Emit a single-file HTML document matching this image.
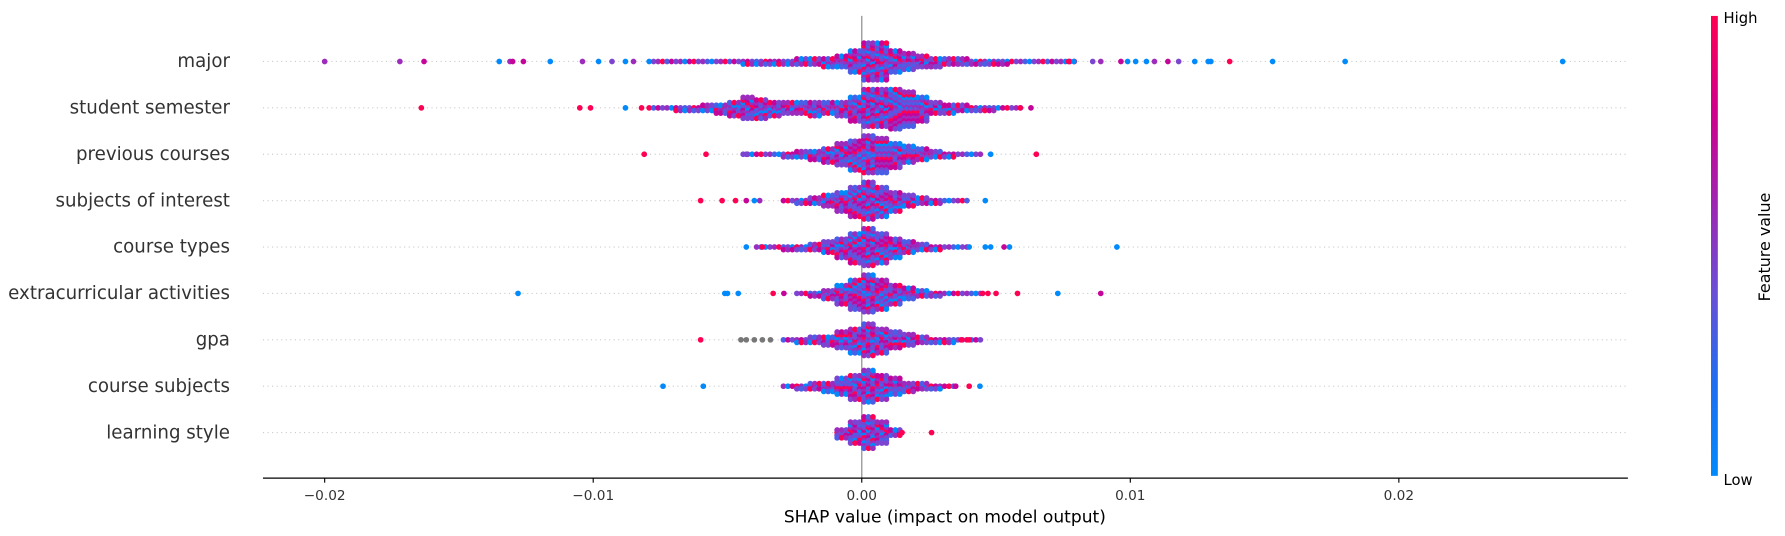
<!DOCTYPE html>
<html><head><meta charset="utf-8"><style>
html,body{margin:0;padding:0;background:#fff;}
svg{display:block;font-family:"DejaVu Sans","Liberation Sans",sans-serif;}
</style></head><body>
<svg id="chart" width="1785" height="536" viewBox="0 0 1785 536" xmlns="http://www.w3.org/2000/svg">
<defs><linearGradient id="cb" x1="0" y1="1" x2="0" y2="0">
<stop offset="0" stop-color="#008afb"/><stop offset="0.2" stop-color="#1e6ef0"/><stop offset="0.4" stop-color="#6a4fd6"/><stop offset="0.6" stop-color="#a024b0"/><stop offset="0.8" stop-color="#d1008a"/><stop offset="1" stop-color="#ff0052"/></linearGradient></defs>
<g id="root" transform="scale(1.13839)"></g>
</svg>
<script>
const features = ["major","student semester","previous courses","subjects of interest","course types","extracurricular activities","gpa","course subjects","learning style"];
const binStart = -0.008;
const binWidth = 0.0005;
const coreMajor = [1,1,1,1,1,1,1,2,2,2,2,3,3,4,5,9,15,15,9,7,5,4,3,3,2,2,2,1,1,1,1,1];
const coreSemester = [1,1,2,2,3,4,6,9,8,6,5,5,6,5,6,10,15,15,16,14,10,5,4,3,2,2,1,1,0,0,0,0];
const corePrevious = [0,0,0,0,0,0,0,1,1,1,2,3,4,6,9,12,15,14,10,7,5,3,2,1,1,0,0,0,0,0,0,0];
const coreSubjects = [0,0,0,0,0,0,0,0,0,0,1,2,3,5,8,12,15,12,8,5,3,2,1,1,0,0,0,0,0,0,0,0];
const coreTypes = [0,0,0,0,0,0,0,0,1,1,2,2,3,5,8,12,15,12,8,5,3,2,1,1,0,0,0,0,0,0,0,0];
const coreExtra = [0,0,0,0,0,0,0,0,0,0,0,1,2,4,8,12,15,12,8,5,3,2,1,1,1,0,0,0,0,0,0,0];
const coreGpa = [0,0,0,0,0,0,0,0,0,0,1,2,3,4,7,10,13,10,7,5,3,2,2,1,1,0,0,0,0,0,0,0];
const coreCourseSubj = [0,0,0,0,0,0,0,0,0,0,1,2,3,4,7,10,13,10,7,4,3,2,1,0,0,0,0,0,0,0,0,0];
const coreLearning = [0,0,0,0,0,0,0,0,0,0,0,0,0,0,4,9,13,9,3,0,0,0,0,0,0,0,0,0,0,0,0,0];
const cores = [coreMajor,coreSemester,corePrevious,coreSubjects,coreTypes,coreExtra,coreGpa,coreCourseSubj,coreLearning];
// outliers: [shap value, color index 0=blue..5=red, 6=gray]
const outMajor = [[-0.0200,3],[-0.0172,3],[-0.0163,4],[-0.0135,0],[-0.0131,3],[-0.0130,4],[-0.0126,4],[-0.0116,0],[-0.0104,3],[-0.0098,0],[-0.0093,2],[-0.0088,0],[-0.0085,3],[0.0077,5],[0.0079,0],[0.0086,2],[0.0089,3],[0.00965,4],[0.0099,0],[0.0102,0],[0.0106,0],[0.0109,3],[0.0114,4],[0.0118,2],[0.0124,0],[0.0129,0],[0.0130,0],[0.0137,5],[0.0153,0],[0.0180,0],[0.0261,0]];
const outSemester = [[-0.0164,5],[-0.0105,5],[-0.0101,5],[-0.0088,0],[-0.0082,5],[0.0059,5],[0.0063,4]];
const outPrevious = [[-0.0081,5],[-0.0058,5],[-0.0043,2],[0.0048,0],[0.0065,5]];
const outSubjects = [[-0.0060,5],[-0.0052,5],[-0.0047,5],[-0.0043,4],[-0.0040,0],[-0.0038,3],[0.0046,0]];
const outTypes = [[-0.0043,0],[-0.0037,5],[0.0040,0],[0.0046,0],[0.0048,0],[0.0053,4],[0.0055,0],[0.0095,0]];
const outExtra = [[-0.0128,0],[-0.0051,0],[-0.0050,0],[-0.0046,0],[-0.0033,5],[-0.0029,4],[0.0045,5],[0.0047,5],[0.0050,5],[0.0058,5],[0.0073,0],[0.0089,4]];
const outGpa = [[-0.0060,5],[-0.0045,6],[-0.0043,6],[-0.0040,6],[-0.0037,6],[-0.0034,6],[0.0037,5],[0.0040,5]];
const outCourseSubj = [[-0.0074,0],[-0.0059,0],[0.0035,4],[0.0040,5],[0.0044,0]];
const outLearning = [[0.0015,5],[0.0026,5]];
const outliers = [outMajor,outSemester,outPrevious,outSubjects,outTypes,outExtra,outGpa,outCourseSubj,outLearning];
const xTicks = [-0.02,-0.01,0,0.01,0.02];
const xTickLabels = ["\u22120.02","\u22120.01","0.00","0.01","0.02"];

const palette = ["#008afb","#4a5ee6","#7b45d2","#9d2cbd","#c5049a","#ff0052","#777777"];
const coreCycle = [0,2,3,5,1,4,2,3,0,4,5,2,3,1];
const NS = "http://www.w3.org/2000/svg";
const root = document.getElementById('root');
const x = v => 757 + v*23590;
const rowY = i => 54 + i*40.75;
function mk(tag, attrs){const e=document.createElementNS(NS,tag);for(const k in attrs)e.setAttribute(k,attrs[k]);return e;}

features.forEach((f,i)=>{
  const g = mk('line',{x1:231,x2:1430,y1:rowY(i),y2:rowY(i),stroke:'#cccccc','stroke-width':1,'stroke-dasharray':'1,3'});
  
  
  root.appendChild(g);
  const t = mk('text',{x:202,y:rowY(i)+5,'text-anchor':'end','font-size':16,fill:'#333333'});
  t.textContent=f;
  
  
  root.appendChild(t);
});
const zl = mk('line',{x1:x(0),x2:x(0),y1:14,y2:420,stroke:'#999999','stroke-width':1.2});


root.appendChild(zl);

features.forEach((f,i)=>{
  const grp = mk('g',{});
  
  
  const y0=rowY(i);
  const core=cores[i];
  let idx=0;
  core.forEach((n,b)=>{
    const v0=binStart+b*binWidth;
    for(let c=0;c<3;c++){
      const cx=x(v0+binWidth*(c+0.5)/3);
      for(let k=0;k<n;k++){
        const off=(k%2?1:-1)*Math.ceil(k/2)*2.3;
        const col=palette[coreCycle[(idx+i*3)%coreCycle.length]];
        idx++;
        const d=mk('circle',{cx:cx,cy:y0+off,r:2.5,fill:col});
        
        
        grp.appendChild(d);
      }
    }
  });
  outliers[i].forEach(o=>{
    const d=mk('circle',{cx:x(o[0]),cy:y0,r:2.5,fill:palette[o[1]]});
    
    
    grp.appendChild(d);
  });
  root.appendChild(grp);
});

const ax=mk('line',{x1:231,x2:1430,y1:420,y2:420,stroke:'#000','stroke-width':1});


root.appendChild(ax);
xTicks.forEach((t,j)=>{
  const tk=mk('line',{x1:x(t),x2:x(t),y1:420,y2:424,stroke:'#000'});
  
  
  root.appendChild(tk);
  const tl=mk('text',{x:x(t),y:439,'text-anchor':'middle','font-size':12,fill:'#333'});
  tl.textContent=xTickLabels[j];
  
  
  root.appendChild(tl);
});
const xl=mk('text',{x:830,y:459,'text-anchor':'middle','font-size':15,fill:'#000'});
xl.textContent='SHAP value (impact on model output)';


root.appendChild(xl);

const cbr=mk('rect',{x:1503,y:14,width:6,height:404,fill:'url(#cb)'});


root.appendChild(cbr);
const hi=mk('text',{x:1514,y:20,'font-size':13,fill:'#000'});hi.textContent='High';


root.appendChild(hi);
const lo=mk('text',{x:1514,y:426,'font-size':13,fill:'#000'});lo.textContent='Low';


root.appendChild(lo);
const fv=mk('text',{x:0,y:0,'font-size':14,fill:'#000','text-anchor':'middle',transform:'translate(1555,217) rotate(-90)'});
fv.textContent='Feature value';


root.appendChild(fv);
</script>
</body></html>
